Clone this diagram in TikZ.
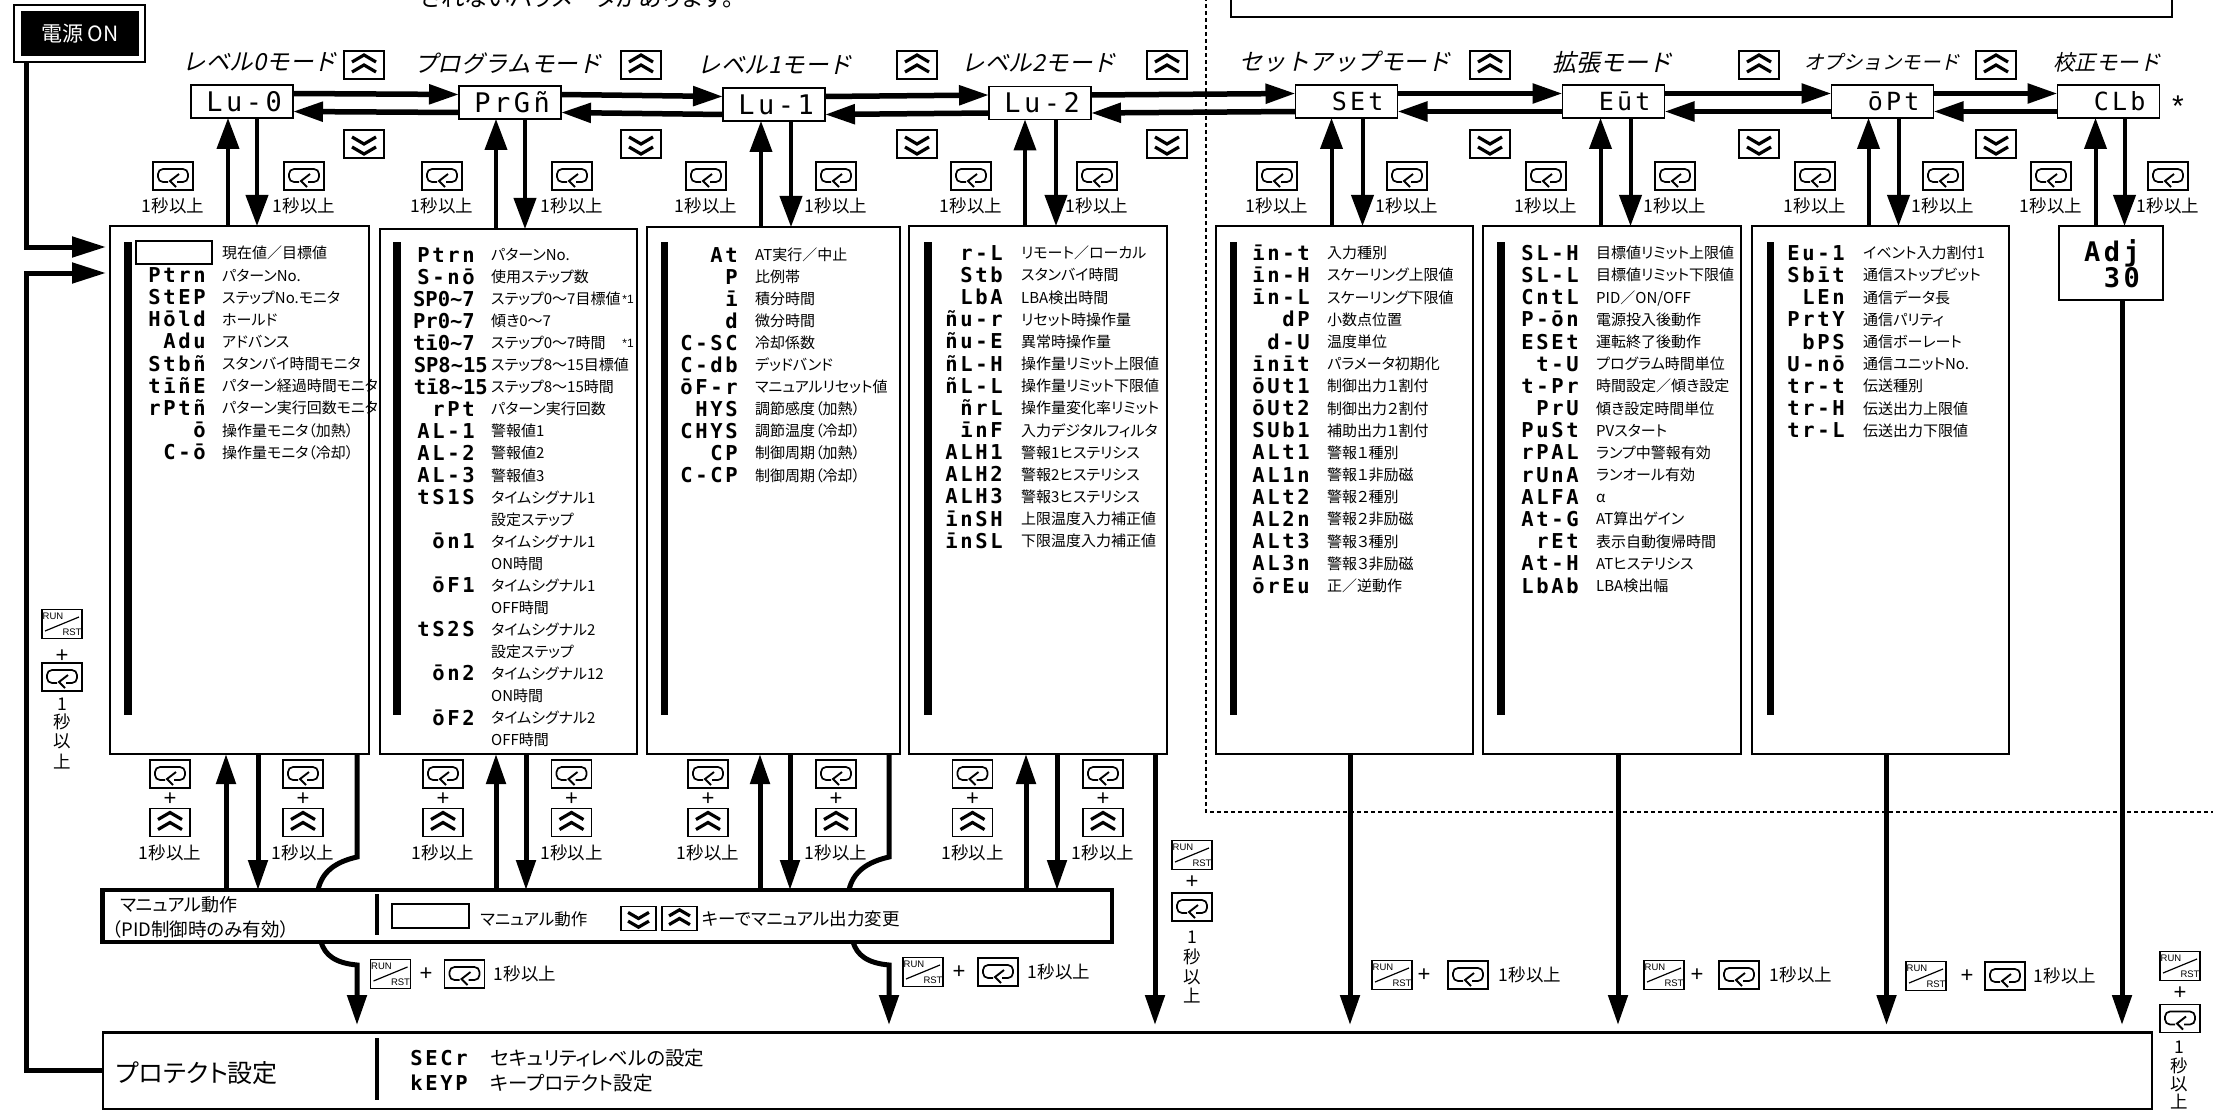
\documentclass[tikz,border=0pt]{standalone}
\usepackage{fontspec}
\usetikzlibrary{arrows.meta}
\newfontfamily\jp[RawFeature={+palt}]{Noto Sans CJK JP}
\newfontfamily\jpit[FakeSlant=0.22]{Noto Sans CJK JP}
\newfontfamily\segf[LetterSpace=13]{DejaVu Sans Mono}
\newfontfamily\segn{DejaVu Sans Mono}
\newfontfamily\keyf{Liberation Sans}
\newcommand{\jps}[1]{\jp\fontsize{#1}{#1}\selectfont}
\tikzset{
  seg/.style={font=\segf\bfseries\fontsize{20.5}{24}\selectfont,inner sep=0pt,anchor=base east},
  lab/.style={font=\jp\fontsize{15}{18}\selectfont,inner sep=0pt,anchor=base west},
  sec/.style={font=\jp\fontsize{17.5}{20}\selectfont,inner sep=0pt},
  plus/.style={font=\keyf\fontsize{22}{24}\selectfont,inner sep=0pt},
  modelab/.style={font=\jpit\fontsize{#1}{26}\selectfont,inner sep=0pt},
  modebox/.style={draw,line width=1.3pt,fill=white,minimum width=102pt,minimum height=33pt,inner sep=0pt,outer sep=0pt,
     text width=80pt,align=right,font=\segf\fontsize{27}{30}\selectfont},
  modeboxb/.style={modebox,text width=74pt,font=\segf\fontsize{25}{30}\selectfont},
  panelbox/.style={draw,line width=1.2pt,fill=white,inner sep=0pt,outer sep=0pt},
  bar/.style={fill=black},
  harrow/.style={line width=5.5pt,-{Triangle[length=30pt,width=19pt]}},
  varrow/.style={line width=4pt,-{Triangle[length=31pt,width=22pt]}},
  barrow/.style={line width=5pt,-{Triangle[length=30pt,width=19pt]}},
  toprot/.style={line width=5pt,-{Triangle[length=30pt,width=19pt]},shorten >=7pt},
  keyline/.style={line width=1.4pt},
  upkey/.pic={
    \draw[keyline,fill=white] (-20,-14) rectangle (20,14);
    \draw[line width=3.2pt] (-12,-3)--(0,-10)--(12,-3) (-12,7)--(0,0)--(12,7);
  },
  downkey/.pic={
    \draw[keyline,fill=white] (-20,-14) rectangle (20,14);
    \draw[line width=3.2pt] (-12,-7)--(0,0)--(12,-7) (-12,3)--(0,10)--(12,3);
  },
  enterkey/.pic={
    \draw[keyline,fill=white] (-20,-14) rectangle (20,14);
    \draw[line width=1.7pt,rounded corners=5pt] (-5,6)--(-15,6)--(-15,-7)--(15,-7)--(15,6)--(4,6);
    \draw[line width=1.9pt] (6,-2)--(-3,5)--(3,11);
  },
  runkey/.pic={
    \draw[keyline,fill=white] (-20,-14.5) rectangle (20,14.5);
    \draw[line width=1.2pt] (-17,7)--(17,-7);
    \node[inner sep=0pt,font=\keyf\fontsize{9.5}{10}\selectfont] at (-9,-7.5) {RUN};
    \node[inner sep=0pt,font=\keyf\fontsize{9.5}{10}\selectfont] at (10,8) {RST};
  },
}
\newcommand{\panelrows}[6]{%
  \foreach \sg/\lb [count=\rn from 0] in {#6} {
    \pgfmathsetmacro\yy{#4+\rn*#5}
    \node[seg] (s#1-\rn) at (#2,\yy+7.5) {\sg};
    \node[lab] (l#1-\rn) at (#3,\yy+6) {\lb};
  }}
\begin{document}
\begin{tikzpicture}[x=1pt,y=-1pt]
\fill[white] (0,0) rectangle (2213,1110);
\useasboundingbox (0,0) rectangle (2213,1110);

% dashed frame and top fragments
\draw[line width=1.1pt,dash pattern=on 4pt off 3pt] (1206,-3) -- (1206,812) -- (2216,812);
\draw[line width=1.5pt] (1231,-5) -- (1231,17) -- (2172,17) -- (2172,-5);
\node[inner sep=0pt,font=\jp\fontsize{23.5}{26}\selectfont] (note) at (577,-3) {されないパラメータがあります。};

% power
\node[draw,line width=1.5pt,fill=white,minimum width=131pt,minimum height=57pt,inner sep=0pt,outer sep=0pt] (pwrframe) at (79.5,33.5) {};
\node[fill=black,text=white,minimum width=118pt,minimum height=45pt,inner sep=0pt,font=\jp\fontsize{21}{24}\selectfont] (pwr) at (80,33.5) {電源 ON};

% mode boxes
\node[modebox] (m0) at (242,101.5) {Lu-0};
\node[modebox] (m1) at (510,102.5) {PrGñ};
\node[modebox] (m2) at (774,104.5) {Lu-1};
\node[modebox] (m3) at (1040,103) {Lu-2};
\node[modeboxb] (m4) at (1346.5,101.5) {SEt};
\node[modeboxb] (m5) at (1613.5,101.5) {Eūt};
\node[modeboxb] (m6) at (1882.5,101.5) {ōPt};
\node[modeboxb] (m7) at (2108.5,101.5) {CLb};
\node[inner sep=0pt,font=\keyf\fontsize{30}{30}\selectfont] (star) at (2178,106) {*};

% mode labels
\node[modelab=23.5] (t0) at (260,62) {レベル0モード};
\node[modelab=23.5] (t1) at (508,63) {プログラムモード};
\node[modelab=23.5] (t2) at (775,65) {レベル1モード};
\node[modelab=23.5] (t3) at (1039,63) {レベル2モード};
\node[modelab=23.5] (t4) at (1345,62) {セットアップモード};
\node[modelab=24] (t5) at (1612,62) {拡張モード};
\node[modelab=19.5] (t6) at (1882,62) {オプションモード};
\node[modelab=21.5] (t7) at (2107,62) {校正モード};

% up / down keys
\foreach \x in {364,641,917,1167,1490,1759,1996} {
  \pic at (\x,65) {upkey};
  \pic at (\x,144) {downkey};
}

% horizontal arrows between modes
\foreach \a/\b in {m0/m1,m1/m2,m2/m3,m3/m4,m4/m5,m5/m6,m6/m7} {
  \draw[harrow] ([yshift=8pt]\a.east) -- ([yshift=8pt]\b.west);
  \draw[harrow] ([yshift=-10pt]\b.west) -- ([yshift=-10pt]\a.east);
}

% panels
\node[panelbox,minimum width=259pt,minimum height=528pt] (p1) at (239.5,490) {};
\node[panelbox,minimum width=257pt,minimum height=525pt] (p2) at (508.5,491.5) {};
\node[panelbox,minimum width=253pt,minimum height=527pt] (p3) at (773.5,490.5) {};
\node[panelbox,minimum width=258pt,minimum height=528pt] (p4) at (1038,490) {};
\node[panelbox,minimum width=257pt,minimum height=528pt] (p5) at (1344.5,490) {};
\node[panelbox,minimum width=258pt,minimum height=528pt] (p6) at (1612,490) {};
\node[panelbox,minimum width=257pt,minimum height=528pt] (p7) at (1880.5,490) {};
\node[panelbox,minimum width=104pt,minimum height=74pt] (p8) at (2111,263) {};

% bars
\foreach \xa/\xb in {124/131.5,393/401,660.5/668,924/931.5,1230/1237,1497/1505,1767/1774} {
  \fill[bar] (\xa,241.5) rectangle (\xb,715);
}

% arrows mode <-> panel
\foreach \m/\p/\u/\d in {m0/p1/-14/15,m1/p2/-14/15,m2/p3/-13/17,m3/p4/-15/16,m4/p5/-15/16,m5/p6/-13/17,m6/p7/-14/16,m7/p8/-13/16} {
  \draw[varrow] ([xshift=\u pt]\m.south |- \p.north) -- ([xshift=\u pt]\m.south);
  \draw[varrow] ([xshift=\d pt]\m.south) -- ([xshift=\d pt]\m.south |- \p.north);
}

% top enter keys
\foreach \x [count=\c] in {173,304,442,572,706,836,971,1097,1277,1407,1546,1675,1815,1943,2051,2168} {
  \pic at (\x,176) {enterkey};
  \node[sec] (sec\c) at (\x,206) {1秒以上};
}

% panel rows
\node[draw,line width=1.5pt,minimum width=76pt,minimum height=23pt,inner sep=0pt] (blank1) at (174,252.5) {};
\node[lab] (l0) at (222,258) {現在値／目標値};
\panelrows{1}{206}{222}{275}{22.15}{Ptrn/パターンNo.,StEP/ステップNo.モニタ,Hōld/ホールド,Adu/アドバンス,Stbñ/スタンバイ時間モニタ,tīñE/パターン経過時間モニタ,rPtñ/パターン実行回数モニタ,ō/操作量モニタ（加熱）,C-ō/操作量モニタ（冷却）}
\panelrows{2}{475}{491}{254.5}{22.05}{Ptrn/パターンNo.,S-nō/使用ステップ数,{\segn SP0\textasciitilde 7}/ステップ0～7目標値,{\segn Pr0\textasciitilde 7}/傾き0～7,{\segn tī0\textasciitilde 7}/ステップ0～7時間,{\segn SP8\textasciitilde 15\kern-13pt}/ステップ8～15目標値,{\segn tī8\textasciitilde 15\kern-13pt}/ステップ8～15時間,rPt/パターン実行回数,AL-1/警報値1,AL-2/警報値2,AL-3/警報値3,tS1S/タイムシグナル1,{}/設定ステップ,ōn1/タイムシグナル1,{}/ON時間,ōF1/タイムシグナル1,{}/OFF時間,tS2S/タイムシグナル2,{}/設定ステップ,ōn2/タイムシグナル12,{}/ON時間,ōF2/タイムシグナル2,{}/OFF時間}
\node[inner sep=0pt,font=\keyf\fontsize{12}{14}\selectfont] (star1) at (628,299) {*1};
\node[inner sep=0pt,font=\keyf\fontsize{12}{14}\selectfont] (star2) at (628,343) {*1};
\panelrows{3}{738}{755}{254.5}{22.05}{At/AT実行／中止,P/比例帯,ī/積分時間,d/微分時間,C-SC/冷却係数,C-db/デッドバンド,ōF-r/マニュアルリセット値,HYS/調節感度（加熱）,CHYS/調節温度（冷却）,CP/制御周期（加熱）,C-CP/制御周期（冷却）}
\panelrows{4}{1003}{1021}{252.8}{22.15}{r-L/リモート／ローカル,Stb/スタンバイ時間,LbA/LBA検出時間,ñu-r/リセット時操作量,ñu-E/異常時操作量,ñL-H/操作量リミット上限値,ñL-L/操作量リミット下限値,ñrL/操作量変化率リミット,īnF/入力デジタルフィルタ,ALH1/警報1ヒステリシス,ALH2/警報2ヒステリシス,ALH3/警報3ヒステリシス,īnSH/上限温度入力補正値,īnSL/下限温度入力補正値}
\panelrows{5}{1310}{1327}{252.8}{22.18}{īn-t/入力種別,īn-H/スケーリング上限値,īn-L/スケーリング下限値,dP/小数点位置,d-U/温度単位,īnīt/パラメータ初期化,ōUt1/制御出力１割付,ōUt2/制御出力２割付,SUb1/補助出力１割付,ALt1/警報１種別,AL1n/警報１非励磁,ALt2/警報２種別,AL2n/警報２非励磁,ALt3/警報３種別,AL3n/警報３非励磁,ōrEu/正／逆動作}
\panelrows{6}{1579}{1596}{252.8}{22.18}{SL-H/目標値リミット上限値,SL-L/目標値リミット下限値,CntL/{PID／ON/OFF},P-ōn/電源投入後動作,ESEt/運転終了後動作,t-U/プログラム時間単位,t-Pr/時間設定／傾き設定,PrU/傾き設定時間単位,PuSt/PVスタート,rPAL/ランプ中警報有効,rUnA/ランオール有効,ALFA/α,At-G/AT算出ゲイン,rEt/表示自動復帰時間,At-H/ATヒステリシス,LbAb/LBA検出幅}
\panelrows{7}{1845}{1863}{252.8}{22.18}{Eu-1/イベント入力割付1,Sbīt/通信ストップビット,LEn/通信データ長,PrtY/通信パリティ,bPS/通信ボーレート,U-nō/通信ユニットNo.,tr-t/伝送種別,tr-H/伝送出力上限値,tr-L/伝送出力下限値}
\node[font=\segf\bfseries\fontsize{27}{30}\selectfont,inner sep=0pt,anchor=base east] (adj) at (2140,261) {Adj};
\node[font=\segf\bfseries\fontsize{27}{30}\selectfont,inner sep=0pt,anchor=base east] (adjv) at (2140,287) {30};

% manual box
\node[draw,line width=4.5pt,fill=white,minimum width=1009.5pt,minimum height=52pt,inner sep=0pt,outer sep=0pt] (man) at (607,916) {};
\draw[line width=4pt] (376.5,894) -- (376.5,935);
\node[lab,font=\jps{18}] (manA) at (120,911) {マニュアル動作};
\node[lab,font=\jps{18.5}] (manB) at (112,936) {（PID制御時のみ有効）};
\node[draw,line width=1.4pt,minimum width=77pt,minimum height=24pt,inner sep=0pt] (manblank) at (430.5,916) {};
\node[lab,font=\jps{16.5}] (manC) at (480,925) {マニュアル動作};
\pic[scale=0.87] at (638.5,918.5) {downkey};
\pic[scale=0.87] at (679.5,918.5) {upkey};
\node[lab,font=\jps{17.5}] (manD) at (702,925) {キーでマニュアル出力変更};

% protect box
\node[draw,line width=1.5pt,fill=white,minimum width=2049pt,minimum height=77pt,inner sep=0pt,outer sep=0pt] (prot) at (1127.5,1070.5) {};
\draw[line width=3pt] (prot.north west) -- (prot.north east);
\draw[line width=4pt] (376.5,1038) -- (376.5,1100);
\node[lab,font=\jps{25}] (protA) at (116,1082) {プロテクト設定};
\node[seg] (protB) at (468,1065) {SECr};
\node[seg] (protC) at (468,1090) {kEYP};
\node[lab,font=\jps{19.5}] (protD) at (490,1065) {セキュリティレベルの設定};
\node[lab,font=\jps{19.5}] (protE) at (490,1090) {キープロテクト設定};

% panels <-> manual
\foreach \p/\u/\d in {p1/-13.5/18.5,p2/-12.5/17.5,p3/-13.5/16.5,p4/-12/19} {
  \draw[barrow] ([xshift=\u pt]\p.south |- man.north) -- ([xshift=\u pt]\p.south);
  \draw[barrow] ([xshift=\d pt]\p.south) -- ([xshift=\d pt]\p.south |- man.north);
}
% curved bypass
\draw[line width=5pt] ([xshift=117.5pt]p1.south) -- ([xshift=117.5pt]p1.south |- 0,857) .. controls (335,862) and (322,872) .. ([xshift=-289pt]man.north);
\draw[toprot] ([xshift=-286pt]man.south) .. controls (325,955) and (335,963) .. (357,965) -- (357,965 |- prot.north);
\draw[line width=5pt] ([xshift=115.5pt]p3.south) -- ([xshift=115.5pt]p3.south |- 0,857) .. controls (867,862) and (853,872) .. ([xshift=242pt]man.north);
\draw[toprot] ([xshift=246pt]man.south) .. controls (857,955) and (867,963) .. (889,965) -- (889,965 |- prot.north);
% direct to protect
\foreach \p/\d in {p4/117,p5/5.5,p6/6,p7/6,p8/11} {
  \draw[toprot] ([xshift=\d pt]\p.south) -- ([xshift=\d pt]\p.south |- prot.north);
}

% lower key stacks
\foreach \x [count=\c] in {170,303,443,571.5,708,836,972.5,1103} {
  \pic at (\x,774) {enterkey};
  \node[plus] (bp\c) at (\x,799) {+};
  \pic at (\x,822.5) {upkey};
  \node[sec] (bs\c) at (\x,853) {1秒以上};
}

% run + enter rows
\foreach \r/\pl/\e/\t/\y [count=\c] in {390.5/426/464.5/525/974,923/959/998/1059/972,1392/1424/1468/1530/975,1664/1697/1739/1801/975,1926/1967/2005/2065/976} {
  \pic at (\r,\y) {runkey};
  \node[plus] (rp\c) at (\pl,\y) {+};
  \pic at (\e,\y) {enterkey};
  \node[sec] (rs\c) at (\t,\y) {1秒以上};
}

% vertical stacks
\pic at (62,624) {runkey};
\node[plus] (vp1) at (62,656) {+};
\pic at (62,677) {enterkey};
\foreach \ch/\yy [count=\c] in {1/704,秒/722,以/741,上/762} \node[sec] (va\c) at (62,\yy) {\ch};
\pic at (1192,855) {runkey};
\node[plus] (vp2) at (1192,882) {+};
\pic at (1192,907) {enterkey};
\foreach \ch/\yy [count=\c] in {1/937,秒/957,以/977,上/996} \node[sec] (vb\c) at (1192,\yy) {\ch};
\pic at (2180,966) {runkey};
\node[plus] (vp3) at (2180,993) {+};
\pic at (2180,1018.5) {enterkey};
\foreach \ch/\yy [count=\c] in {1/1047,秒/1066,以/1084,上/1102} \node[sec] (vc\c) at (2179,\yy) {\ch};

% power and protect feeds
\draw[line width=5pt,-{Triangle[length=34pt,width=20pt]},shorten >=4pt] ([xshift=-53.5pt]pwrframe.south) |- ([yshift=243pt]p1.west);
\draw[line width=5pt,-{Triangle[length=34pt,width=20pt]},shorten >=4pt] (prot.west) -- ++(-77,0) |- ([yshift=217pt]p1.west);
\end{tikzpicture}
\end{document}
